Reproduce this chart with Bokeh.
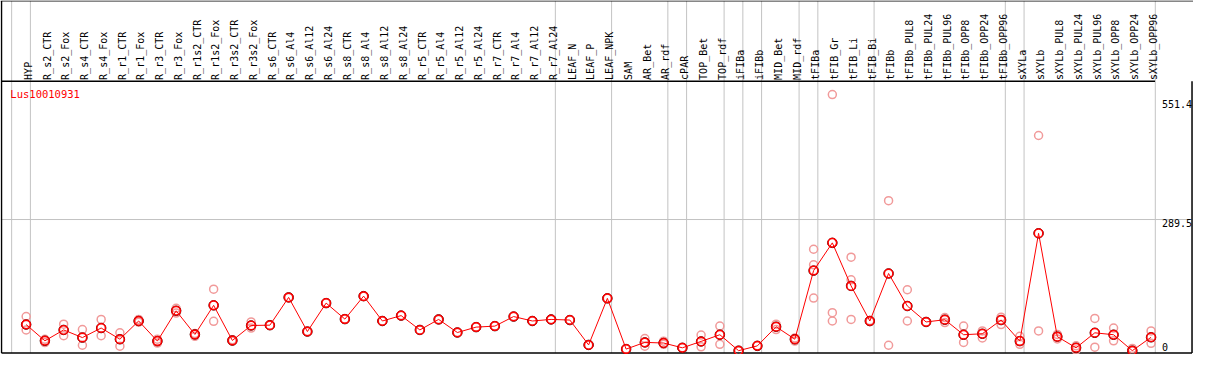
import math
from bokeh.plotting import figure
from bokeh.models import Range1d, ColumnDataSource
from bokeh.core.properties import value
from bokeh.embed import file_html
from bokeh.resources import INLINE

gene = "Lus10010931"

categories = ["HYP", "R_s2_CTR", "R_s2_Fox", "R_s4_CTR", "R_s4_Fox", "R_r1_CTR", "R_r1_Fox",
              "R_r3_CTR", "R_r3_Fox", "R_r1s2_CTR", "R_r1s2_Fox", "R_r3s2_CTR", "R_r3s2_Fox",
              "R_s6_CTR", "R_s6_Al4", "R_s6_Al12", "R_s6_Al24", "R_s8_CTR", "R_s8_Al4",
              "R_s8_Al12", "R_s8_Al24", "R_r5_CTR", "R_r5_Al4", "R_r5_Al12", "R_r5_Al24",
              "R_r7_CTR", "R_r7_Al4", "R_r7_Al12", "R_r7_Al24", "LEAF_N", "LEAF_P", "LEAF_NPK",
              "SAM", "AR_Bet", "AR_rdf", "cPAR", "TOP_Bet", "TOP_rdf", "iFIBa", "iFIBb",
              "MID_Bet", "MID_rdf", "tFIBa", "tFIB_Gr", "tFIB_Li", "tFIB_Bi", "tFIBb",
              "tFIBb_PUL8", "tFIBb_PUL24", "tFIBb_PUL96", "tFIBb_OPP8", "tFIBb_OPP24",
              "tFIBb_OPP96", "sXYLa", "sXYLb", "sXYLb_PUL8", "sXYLb_PUL24", "sXYLb_PUL96",
              "sXYLb_OPP8", "sXYLb_OPP24", "sXYLb_OPP96"]

means = [57.7, 21.8, 45.8, 28.9, 50.0, 25.3, 65.5, 21.1, 88.0, 35.9, 100.0, 22.5, 55.6,
         56.3, 117.6, 42.2, 105.0, 69.7, 120.4, 65.5, 77.4, 45.8, 69.0, 40.1, 52.0,
         54.2, 75.3, 65.5, 69.0, 67.6, 12.7, 115.5, 3.5, 18.3, 16.9, 6.3, 20.4, 35.2,
         0.0, 10.6, 52.8, 25.3, 176.7, 238.0, 143.0, 65.5, 170.4, 98.6, 63.4, 68.3,
         35.2, 37.3, 67.6, 21.1, 259.1, 31.0, 6.3, 39.4, 35.2, 0.0, 29.6]

replicates = [[75.4, 45.8, 57.7], [25.0, 18.0], [58.4, 33.1], [46.5, 12.0], [69.0, 33.0],
              [39.5, 9.9], [69.0, 63.0], [25.3, 16.9], [93.6, 83.0], [38.0, 31.7],
              [135.8, 64.8], [24.0, 21.0], [63.4, 50.0], [56.3], [117.6], [42.2], [105.0],
              [69.7], [120.4], [65.5], [77.4], [45.8], [69.0], [40.1], [52.0], [54.2],
              [75.3], [65.5], [69.0], [67.6], [12.7], [115.5], [3.5], [26.8, 9.9],
              [21.0, 14.0], [6.3], [34.5, 8.4], [54.2, 14.0], [0.0], [10.6], [58.4, 46.5],
              [28.2, 21.1], [223.9, 189.4, 116.2], [565.4, 83.8, 65.5], [206.3, 156.3, 69.0],
              [66.5, 64.0], [331.0, 12.0], [134.5, 65.5], [63.4], [73.0, 62.0],
              [54.2, 18.3], [43.6, 28.2], [73.9, 57.7], [31.7, 14.0], [475.0, 43.6],
              [35.9, 26.0], [10.6, 1.4], [71.2, 7.7], [50.0, 21.8], [4.9, 0.0], [43.6, 16.2]]

group_ends = [-1, 0, 28, 31, 34, 35, 37, 38, 39, 41, 42, 45, 52, 53, 60]
scale_ticks = [551.4, 289.5, 0]
scale_labels = ["551.4", "289.5", "0"]

# pixel geometry of the reference (col i at 26 + 19 i px; value 0 at 366 px, 0.4735 px/unit)
PX0, STEP, Y0, K = 26.0, 19.0, 366.0, 0.4735
W_REF, H_REF = 1209, 370
def cx(px):
    return (px - PX0) / STEP
def vy(py):
    return (Y0 - py) / K

W, H = 1193, 354
p = figure(width=W, height=H, output_backend="svg", toolbar_location=None,
           x_range=Range1d(cx(0), cx(W_REF)), y_range=Range1d(vy(H_REF), vy(0)),
           min_border=0, outline_line_color=None)
p.axis.visible = False
p.grid.visible = False
p.background_fill_color = "white"
p.border_fill_color = "white"

top_v, head_v, bot_v = vy(0.5), vy(84.5), vy(368.5)
left_x, right_x = cx(1.0), cx(1207.5)
sep_off = 4.3 / STEP

# gray separators
xs_sep = [[g + sep_off, g + sep_off] for g in group_ends]
ys_sep = [[top_v, bot_v] for _ in group_ends]
p.multi_line(xs_sep, ys_sep, line_color="#c3c3c3", line_width=1)
# gray horizontal scale line
p.line([left_x, right_x], [scale_ticks[1], scale_ticks[1]], line_color="#c3c3c3", line_width=1)

# black frame
p.line([cx(0), cx(W_REF)], [top_v, top_v], line_color="black", line_width=1)
p.line([left_x, cx(1170)], [head_v, head_v], line_color="black", line_width=1.5)
p.line([left_x, right_x], [bot_v, bot_v], line_color="black", line_width=1.5)
p.line([left_x, left_x], [top_v, bot_v], line_color="black", line_width=1.5)
p.line([right_x, right_x], [head_v, bot_v], line_color="black", line_width=1.5)

# header labels
xi = list(range(len(categories)))
hsrc = ColumnDataSource(dict(x=[i + 0.12 for i in xi], y=[vy(83)] * len(xi), t=categories))
p.text(x="x", y="y", text="t", source=hsrc, angle=math.pi / 2, text_align="left",
       text_baseline="middle", text_font=value("DejaVu Sans Mono"), text_font_size="10px",
       text_color="black")

# gene label
p.text(x=[cx(10)], y=[vy(98)], text=[gene], text_align="left", text_baseline="middle",
       text_font=value("DejaVu Sans Mono"), text_font_size="10.5px", text_color="red")

# scale labels
sy = [vy(108), vy(232.5), vy(362)]
p.text(x=[cx(1177)] * 3, y=sy, text=scale_labels, text_align="left", text_baseline="middle",
       text_font=value("DejaVu Sans Mono"), text_font_size="10px", text_color="black")

# replicates
rx, ry = [], []
for i, reps in enumerate(replicates):
    for r in reps:
        rx.append(i)
        ry.append(r)
p.scatter(rx, ry, marker="circle", size=8, fill_color=None, line_color="#f19a9a", line_width=1.5)

# means
p.line(xi, means, line_color="red", line_width=1)
p.scatter(xi, means, marker="circle", size=9.5, fill_color=None, line_color="#400000", line_width=1)
p.scatter(xi, means, marker="circle", size=8.5, fill_color=None, line_color="red", line_width=1.5)

open("out.html", "w").write(file_html(p, INLINE))
